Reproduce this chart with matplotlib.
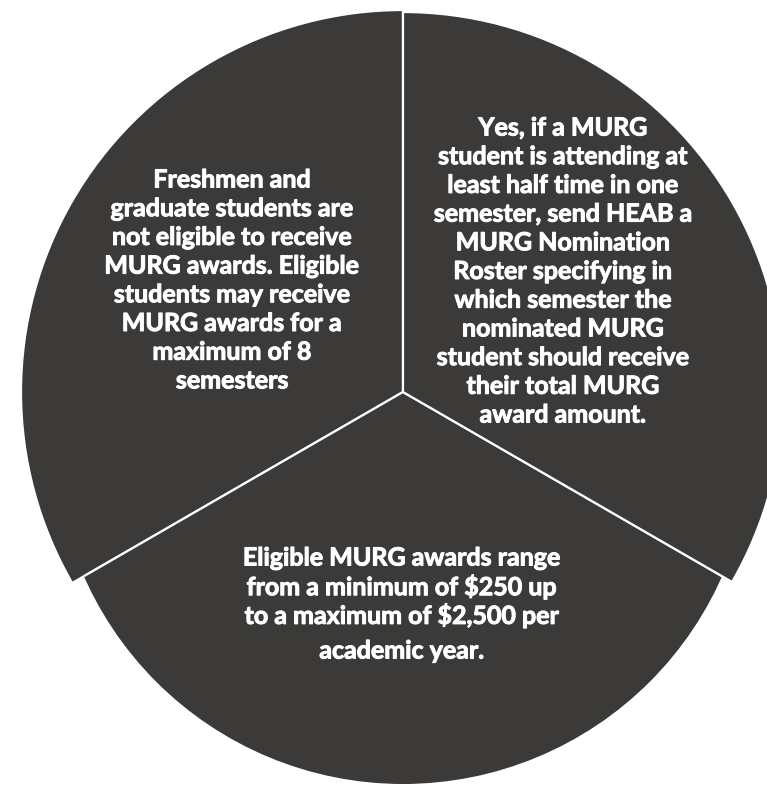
import matplotlib.pyplot as plt
import matplotlib.patheffects as pe
from matplotlib.patches import Circle

W, H = 767, 785

# three equal segments: left, bottom, right (counter-clockwise from top)
slice_values = [1, 1, 1]
slice_color = '#3b3a39'

left_lines = [
    "Freshmen and",
    "graduate students are",
    "not eligible to receive",
    "MURG awards. Eligible",
    "students may receive",
    "MURG awards for a",
    "maximum of 8",
    "semesters",
]
right_lines = [
    "Yes, if a MURG",
    "student is attending at",
    "least half time in one",
    "semester, send HEAB a",
    "MURG Nomination",
    "Roster specifying in",
    "which semester the",
    "nominated MURG",
    "student should receive",
    "their total MURG",
    "award amount.",
]
bottom_lines = [
    "Eligible MURG awards range",
    "from a minimum of $250 up",
    "to a maximum of $2,500 per",
]
bottom_last = "academic year."

fig = plt.figure(figsize=(W / 100, H / 100), dpi=100)
ax = fig.add_axes([0, 0, 1, 1])

cx, cy = 403, H - 392
wedges, _ = ax.pie(slice_values, colors=[slice_color] * 3, startangle=90,
                   center=(cx, cy), radius=382,
                   wedgeprops=dict(edgecolor='white', linewidth=1.6))
wedges[2].set_radius(380)

# bottom segment sits on a slightly lower, smaller arc
bottom = wedges[1]
bottom.set_radius(600)
clip = Circle((cx, cy - 43), 349, transform=ax.transData)
bottom.set_clip_on(True)
bottom.set_clip_path(clip)

ax.set_xlim(0, W)
ax.set_ylim(0, H)
ax.set_aspect('auto')
ax.axis('off')

txt = dict(ha='center', va='center', color='white', fontsize=18,
           fontweight='bold', family='Lato',
           path_effects=[pe.withStroke(linewidth=0.7, foreground='white')])
step = 28.7

for i, line in enumerate(left_lines):
    ax.text(232, H - 180 - i * step, line, **txt)

for i, line in enumerate(right_lines):
    ax.text(563, H - 128 - i * step, line, **txt)

for i, line in enumerate(bottom_lines):
    ax.text(402, H - 558 - i * step, line, **txt)
ax.text(402, H - 651, bottom_last, **txt)

fig.savefig('out.png', dpi=100)
